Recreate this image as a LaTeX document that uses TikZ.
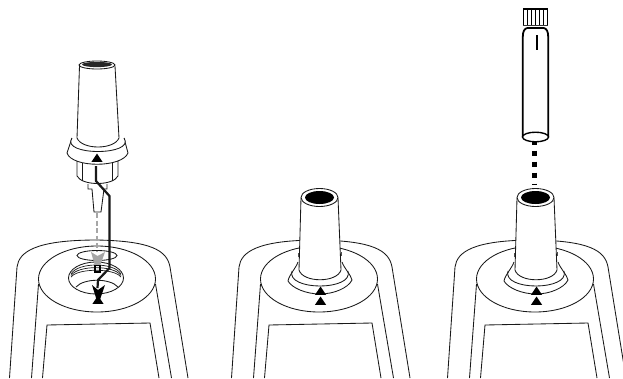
\documentclass[tikz,border=0pt]{standalone}
\tikzset{
    outline/.style={black!90, line width=0.85pt},
    heavy/.style={black, line width=1.8pt},
    guide/.style={black!90, line width=2.2pt, line join=round},
    ghost/.style={black!35, line width=2.2pt, dash pattern=on 5pt off 2.5pt},
}
\newcommand{\marker}[2]{\fill[black] (#1-5.6,#2+8.4) -- (#1,#2) -- (#1+5.6,#2+8.4) -- cycle;}
\begin{document}
\begin{tikzpicture}[x=1pt, y=-1pt]
\useasboundingbox (0,0) rectangle (623,378);

%% === corpo dello strumento, uguale nei tre pannelli ===
\foreach \s in {0,222,438} {
\begin{scope}[xshift=\s pt]
    \draw[outline] (9.5,378) -- (17,267) .. controls (19,252) and (35,240) .. (97,240)
        .. controls (150,241) and (167,250) .. (170,267) -- (188,378);
    \draw[outline] (97,279) ellipse [x radius=58.5, y radius=33];
    \draw[outline] (38.5,284) -- (31.5,378);
    \draw[outline] (155.5,284) -- (171.5,378);
    \draw[outline] (42.5,378) -- (47,325) -- (150,323) -- (159,378);
\end{scope}
}

%% === pannello sinistro: foro filettato ===
\draw[outline] (96,278) ellipse [x radius=27.5, y radius=16];
\foreach \t in {0,3,6} {
    \draw[outline, line width=0.7pt] (71,274+\t*0.5) .. controls (78,\t+262) and (114,\t+262) .. (121,274+\t*0.5);
}
\draw[outline] (76,287) .. controls (84,278) and (110,278) .. (118,287);
\draw[outline] (97,255.5) ellipse [x radius=20, y radius=5];

%% === pannello sinistro: adattatore sollevato ===
\draw[outline, fill=white] (77,161) -- (77,176) .. controls (82,186) and (113,186) .. (118,176) -- (118,161) -- cycle;
\draw[outline] (82,163) -- (82,181);
\draw[outline] (112,163) -- (112,181);
\draw[outline] (88,184) -- (88,189) -- (92,189) -- (94,212) -- (101,212) -- (104,189) -- (107,189) -- (107,184);
\draw[outline, fill=white] (72,138) -- (67,153) .. controls (72,168) and (122,168) .. (128,153) -- (124,138);
\draw[outline, fill=white] (72,138) .. controls (60,156) and (136,156) .. (124,138);
\draw[outline, fill=white] (79.5,66) -- (77,138) .. controls (82,150) and (114,150) .. (119,138) -- (115,66);
\draw[outline, fill=white] (97,65) ellipse [x radius=18, y radius=4];
\fill[black!85] (97,64.5) ellipse [x radius=15, y radius=2.6];

%% === pannello sinistro: percorso di inserimento ===
\coordinate (tipend) at (97,213);
\coordinate (ghostend) at (97,252);
\draw[ghost] (tipend) -- (ghostend);
\fill[black!35] (91,252) -- (97.5,256) -- (105,252) -- (100,266) -- (95,266) -- cycle;
\draw[black, line width=1.5pt] (95,265.5) rectangle (100,272);
\coordinate (guidetop) at (96,166);
\coordinate (guideend) at (97.5,288);
\draw[guide] (guidetop) -- (96,181) -- (109.5,196) -- (109.5,268) -- (98,280) -- (guideend);
\marker{97}{153.5}
\fill[black] (92,285) -- (98,290) -- (105,285) -- (99.5,301) -- (97,301) -- cycle;
\marker{98}{295.5}

%% === pannelli centrale e destro: adattatore montato ===
\foreach \s in {0,216} {
\begin{scope}[xshift=\s pt]
    \draw[outline, fill=white] (298,262) .. controls (296,268) and (289,275) .. (288,281) .. controls (292,288) and (306,294) .. (320,294)
        .. controls (334,294) and (348,288) .. (352,280) .. controls (351,275) and (344,268) .. (342,262);
    \draw[outline] (292,271) .. controls (286,291) and (354,291) .. (348,271);
    \draw[outline, fill=white] (301,198) -- (299,270) .. controls (303,283) and (337,283) .. (341,270) -- (338,198);
    \draw[outline, fill=white] (319.5,197.5) ellipse [x radius=18.5, y radius=9];
    \fill[black] (319.5,197.5) ellipse [x radius=14.5, y radius=6.5];
    \draw[black!70, line width=0.7pt] (298.5,253) -- (298.5,257);
    \draw[black!70, line width=0.7pt] (341,252) -- (341,256);
    \marker{320.5}{286.5}
    \marker{320.5}{296.5}
\end{scope}
}

%% === pannello destro: fiala ===
\fill[black] (522.6,7.5) rectangle (548.4,9.5);
\foreach \c in {523.5,527.5,...,547.5} {
    \draw[black, line width=1.8pt] (\c,8) -- (\c,25);
}
\draw[black!80, line width=0.8pt] (522.6,25.5) -- (548.4,25.5);
\draw[heavy] (527,28) .. controls (524,29) and (522.8,32) .. (522.8,37) -- (522.8,137);
\draw[heavy] (544,28) .. controls (547,29) and (548.2,32) .. (548.2,37) -- (548.2,137);
\draw[heavy] (527,28) -- (544,28);
\draw[black, line width=1.4pt, fill=white] (535.5,137) ellipse [x radius=13, y radius=4.8];
\draw[black, line width=2pt] (536.7,35) -- (536.7,50);
\coordinate (vialend) at (534.7,142);
\coordinate (tubetop) at (534.7,185);
\draw[black, line width=5pt, dash pattern=on 5pt off 6pt, dash phase=2.5pt] (vialend) -- (tubetop);

\end{tikzpicture}
\end{document}
